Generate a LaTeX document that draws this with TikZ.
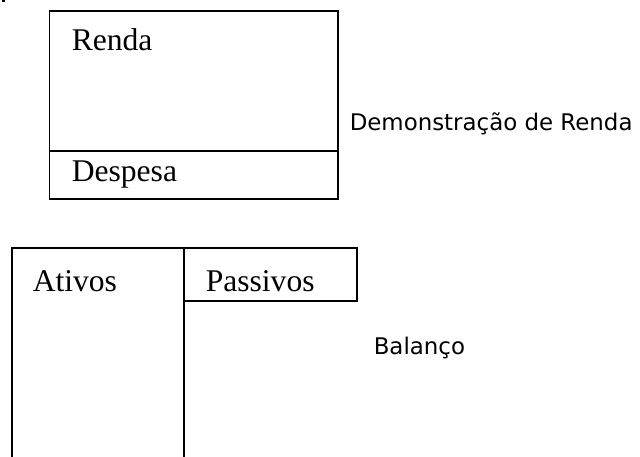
\documentclass[tikz,border=0pt]{standalone}
\usepackage{fontspec}
\setmainfont{Liberation Serif}
\newfontfamily\labelfont{DejaVu Sans}
\begin{document}
\begin{tikzpicture}[x=1pt,y=-1pt,
  line width=1.5pt,
  boxtext/.style={anchor=base west,inner sep=0pt,font=\fontsize{31.6}{36}\selectfont},
  sidetext/.style={anchor=base west,inner sep=0pt,font=\labelfont\fontsize{22.9}{27}\selectfont},
  part/.style={draw=black,line width=1.5pt}]
\useasboundingbox (0,0) rectangle (640,457);
\fill[black] (2,0) rectangle (4.5,2.5);
% Income statement
\draw[part] (49.5,11) rectangle (338,199);
\draw[part] (49.5,151) -- (338,151);
\node[boxtext] (renda) at (71,51) {Renda};
\node[boxtext] (despesa) at (71,182) {Despesa};
\node[sidetext] (demo) at (349,131) {Demonstração de Renda};
% Balance sheet
\draw[part] (12,457) -- (12,248) -- (357,248) -- (357,301) -- (184,301);
\draw[part] (184,248) -- (184,457);
\node[boxtext] (ativos) at (32,291) {Ativos};
\node[boxtext] (passivos) at (205,291) {Passivos};
\node[sidetext] (balanco) at (373,354) {Balanço};
\end{tikzpicture}
\end{document}
